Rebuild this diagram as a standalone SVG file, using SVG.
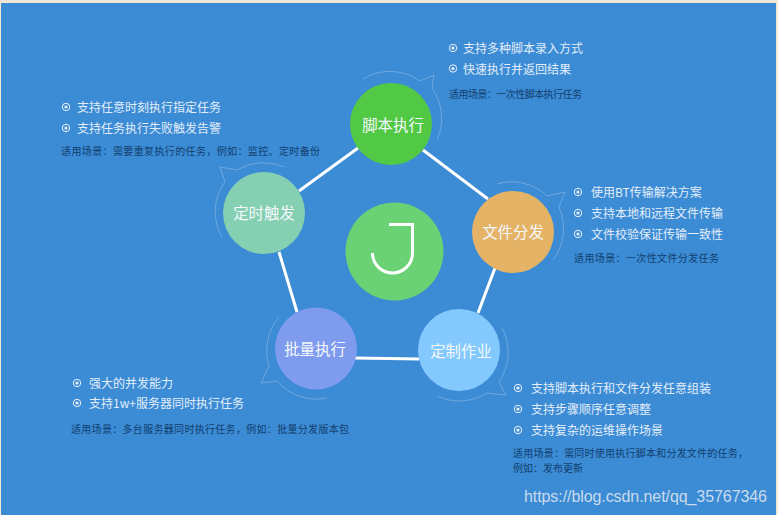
<svg xmlns="http://www.w3.org/2000/svg" width="778" height="515" viewBox="0 0 778 515">
<style>
text{font-family:"Noto Sans CJK SC","Noto Sans",sans-serif}
.n{fill:#f4f8fc;font-size:15.4px;text-anchor:middle}
.l{fill:#e3eef9;font-size:12px}
.s{fill:#123f6e;font-size:10px}
.b{fill:none;stroke:#fff;stroke-opacity:.25;stroke-width:1}
.c{stroke:#fff;stroke-width:3;fill:none}
.d{fill:none;stroke:#eaf2fa;stroke-width:1}
.e{fill:#eaf2fa}
</style>
<defs><g id="dot"><circle class="d" r="3.7"/><circle class="e" r="1.6"/></g></defs>
<rect width="778" height="515" fill="#efe6d6"/>
<rect x="1" y="3" width="775" height="512" fill="#3b8bd5"/>
<g id="connectors">
<path class="c" d="M423 150L488 199"/>
<path class="c" d="M358 148L299 191"/>
<path class="c" d="M279 252L297 312"/>
<path class="c" d="M355 358L419 359"/>
<path class="c" d="M478 313L495 268"/>
</g>
<g id="node-script">
<path class="b" d="M363 79A52 52 0 0 1 420 81L434 75L432 88A53 53 0 0 1 437 140"/>
<circle cx="391" cy="124" r="41" fill="#52c944"/>
<text class="n" x="393" y="131">脚本执行</text>
<g id="text-script">
<use href="#dot" x="453" y="48"/><text class="l" x="463" y="53">支持多种脚本录入方式</text>
<use href="#dot" x="453" y="68.500"/><text class="l" x="463" y="74">快速执行并返回结果</text>
<text class="s" x="449" y="98" textLength="133">适用场景：一次性脚本执行任务</text>
</g>
</g>
<g id="node-file">
<path class="b" d="M497 184A51 51 0 0 1 547 196L565 192L559 207A53 53 0 0 1 553 260"/>
<circle cx="513" cy="232" r="41" fill="#e4b366"/>
<text class="n" x="513" y="238">文件分发</text>
<g id="text-file">
<use href="#dot" x="578" y="192"/><text class="l" x="591" y="197">使用BT传输解决方案</text>
<use href="#dot" x="578" y="213"/><text class="l" x="591" y="218">支持本地和远程文件传输</text>
<use href="#dot" x="578" y="234"/><text class="l" x="591" y="239">文件校验保证传输一致性</text>
<text class="s" x="574" y="262" textLength="145">适用场景：一次性文件分发任务</text>
</g>
</g>
<g id="node-job">
<path class="b" d="M502 328A52 52 0 0 1 499 382L506 395L487 393A52 52 0 0 1 437 396"/>
<circle cx="459" cy="350" r="41" fill="#84c9fd"/>
<text class="n" x="461" y="357">定制作业</text>
<g id="text-job">
<use href="#dot" x="518" y="388"/><text class="l" x="531" y="393">支持脚本执行和文件分发任意组装</text>
<use href="#dot" x="518" y="409"/><text class="l" x="531" y="414">支持步骤顺序任意调整</text>
<use href="#dot" x="518" y="430"/><text class="l" x="531" y="435">支持复杂的运维操作场景</text>
<text class="s" x="513" y="457" textLength="235">适用场景：需同时使用执行脚本和分发文件的任务，</text>
<text class="s" x="513" y="472">例如：发布更新</text>
</g>
</g>
<g id="node-batch">
<path class="b" d="M279 317A52 52 0 0 0 269 366L261 383L277 381A52 52 0 0 0 327 398"/>
<circle cx="316" cy="348.500" r="41" fill="#7f9bee"/>
<text class="n" x="315" y="355">批量执行</text>
<g id="text-batch">
<use href="#dot" x="77" y="383"/><text class="l" x="89" y="388">强大的并发能力</text>
<use href="#dot" x="77" y="403"/><text class="l" x="89" y="408">支持1w+服务器同时执行任务</text>
<text class="s" x="71" y="433" textLength="278">适用场景：多台服务器同时执行任务，例如：批量分发版本包</text>
</g>
</g>
<g id="node-timer">
<path class="b" d="M284 167A51 51 0 0 0 237 170L220 167L225 182A50 50 0 0 0 222 237"/>
<circle cx="264" cy="213" r="41" fill="#85d0b3"/>
<text class="n" x="264" y="219">定时触发</text>
<g id="text-timer">
<use href="#dot" x="66" y="107"/><text class="l" x="77" y="112">支持任意时刻执行指定任务</text>
<use href="#dot" x="66" y="128"/><text class="l" x="77" y="133">支持任务执行失败触发告警</text>
<text class="s" x="61" y="155" textLength="259">适用场景：需要重复执行的任务，例如：监控、定时备份</text>
</g>
</g>
<g id="node-center">
<circle cx="394.500" cy="251.500" r="49" fill="#6bd175"/>
<path d="M389 224.500H412.500V253A20 20 0 0 1 372.500 253V256" fill="none" stroke="#fff" stroke-width="3"/>
</g>
<text x="524" y="502" font-size="16" textLength="243" fill="#c9dbec" style="font-family:'Liberation Sans',Arial,sans-serif">https://blog.csdn.net/qq_35767346</text>
</svg>
